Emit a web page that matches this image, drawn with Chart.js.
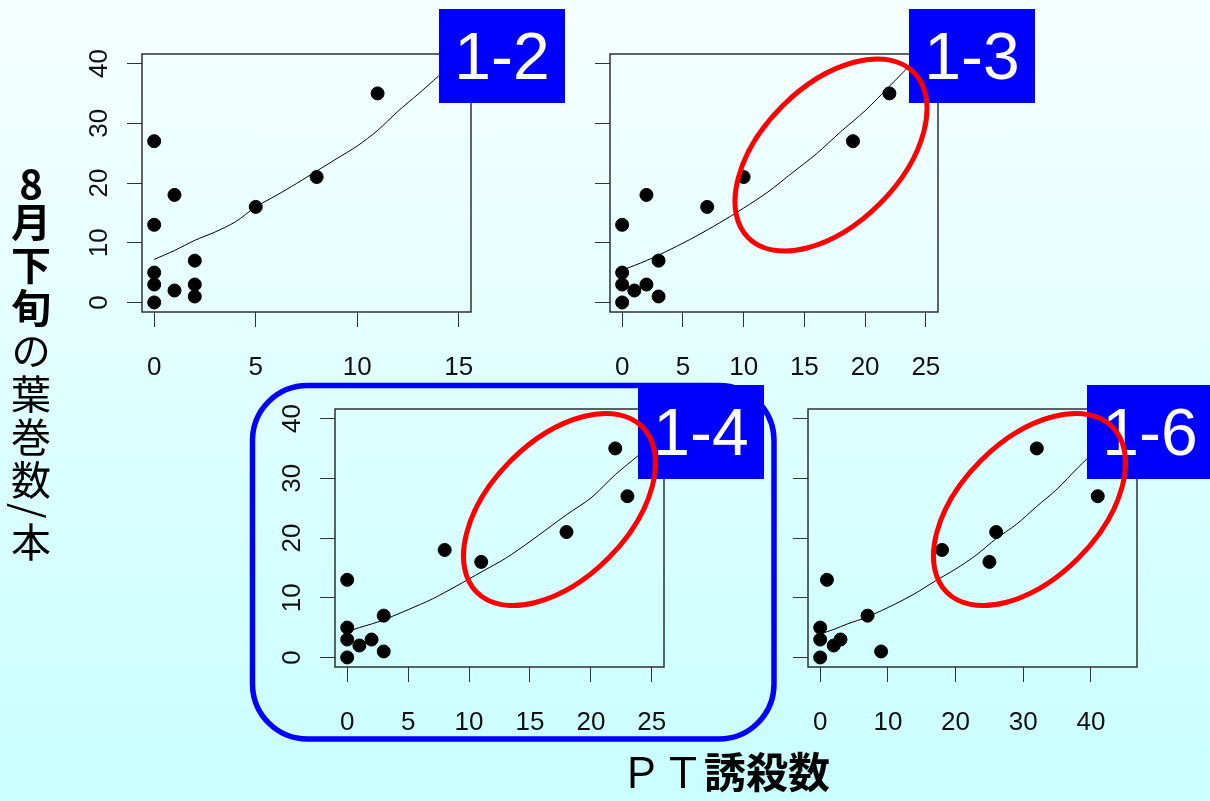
<!DOCTYPE html>
<html>
<head>
<meta charset="utf-8">
<script src="https://cdn.jsdelivr.net/npm/chart.js@4.4.1/dist/chart.umd.min.js"></script>
<style>
html, body { margin: 0; padding: 0; }
body {
    width: 1210px; height: 801px; overflow: hidden; position: relative;
    background: linear-gradient(to bottom, #f6ffff 0%, #c9ffff 100%);
    font-family: "Liberation Sans", Arial, sans-serif;
}
canvas { position: absolute; }
.tag {
    position: absolute; width: 126px; height: 94px;
    background: #0000ff; color: #fff;
    font-size: 66px; line-height: 94px; text-align: center;
}
#ytitle {
    position: absolute; left: 11px; top: 162px;
    writing-mode: vertical-rl; text-orientation: mixed;
    font-family: "Noto Sans CJK JP"; font-size: 40px; line-height: 40px; color: #000;
    letter-spacing: 3px;
}
#ytitle .n { text-combine-upright: all; }
#xtitle {
    position: absolute; left: 620px; top: 746px;
    font-family: "Noto Sans CJK JP"; font-size: 42px; line-height: 48px; color: #000;
    white-space: nowrap;
}
b { font-weight: bold; }
svg { position: absolute; left: 0; top: 0; }
</style>
</head>
<body>
<canvas id="c12"></canvas>
<canvas id="c13"></canvas>
<canvas id="c14"></canvas>
<canvas id="c16"></canvas>

<div class="tag" style="left:439px;top:9px">1-2</div>
<div class="tag" style="left:909px;top:9px">1-3</div>
<div class="tag" style="left:638px;top:385px">1-4</div>
<div class="tag" style="left:1087px;top:385px">1-6</div>

<svg width="1210" height="801">
    <g fill="none" stroke="#ff0000" stroke-width="5">
        <ellipse cx="831" cy="155" rx="117" ry="69" transform="rotate(-45 831 155)"/>
        <ellipse cx="559.5" cy="509.5" rx="117" ry="69" transform="rotate(-45 559.5 509.5)"/>
        <ellipse cx="1029.5" cy="509.5" rx="117" ry="69" transform="rotate(-45 1029.5 509.5)"/>
    </g>
    <rect x="252.5" y="385.5" width="521.5" height="353.5" rx="55" ry="55"
          fill="none" stroke="#0000ff" stroke-width="5.5"/>
</svg>

<div id="ytitle"><b><span class="n">8</span>月下旬</b>の葉巻数/本</div>
<div id="xtitle">ＰＴ<b>誘殺数</b></div>

<script>
// 葉巻数 (y) vs PT誘殺数 (x), one pair of arrays per trap
const x12 = [0, 0, 0, 0, 0, 1, 1, 2, 2, 2, 5, 8, 11];
const y12 = [0, 3, 5, 13, 27, 2, 18, 7, 3, 1, 16, 21, 35];
const x13 = [0, 0, 0, 0, 1, 2, 2, 3, 3, 7, 10, 19, 22];
const y13 = [0, 3, 5, 13, 2, 3, 18, 7, 1, 16, 21, 27, 35];
const x14 = [0, 0, 0, 0, 1, 2, 3, 3, 8, 11, 18, 22, 23];
const y14 = [0, 3, 5, 13, 2, 3, 7, 1, 18, 16, 21, 35, 27];
const x16 = [0, 0, 0, 1, 2, 3, 7, 9, 18, 25, 26, 32, 41];
const y16 = [0, 3, 5, 13, 2, 3, 7, 1, 18, 16, 21, 35, 27];

// fitted curves
const fit12x = [0, 1, 2, 3, 4, 5, 6, 7, 8, 9, 10, 11, 12, 13, 14, 14.5];
const fit12y = [7.2, 8.7, 10.4, 11.8, 13.5, 16.0, 17.9, 19.9, 22.0, 24.1, 26.2, 28.8, 32.0, 34.9, 37.9, 39.3];
const fit13x = [0, 2, 4, 6, 8, 10, 12, 14, 16, 18, 20, 22, 23.5];
const fit13y = [5.4, 7.0, 8.9, 11.0, 13.3, 15.8, 18.5, 21.7, 24.9, 28.6, 32.1, 36.2, 39.3];
const fit14x = [0, 1, 2, 3, 5, 7, 9, 11, 13, 15, 18, 20, 22, 24, 24.5];
const fit14y = [4.3, 5.0, 5.6, 6.3, 8.0, 9.8, 12.0, 14.3, 16.6, 19.4, 23.9, 26.7, 30.6, 34.0, 35.0];
const fit16x = [0, 2, 4, 7, 11, 14, 17, 20, 23, 26, 29, 32, 35, 38, 41];
const fit16y = [3.9, 4.7, 5.6, 6.8, 8.9, 10.7, 12.8, 14.8, 17.1, 19.9, 22.3, 25.3, 28.2, 31.7, 35.0];

// tick labels
const yTicks = [0, 10, 20, 30, 40];
const xTicks12 = [0, 5, 10, 15];
const xTicks25 = [0, 5, 10, 15, 20, 25];
const xTicks16 = [0, 10, 20, 30, 40];

// R style axis limits (range extended 4% each side)
const yLim = [-1.6, 41.6];
const xLim12 = [-0.6, 15.6];
const xLim25 = [-1, 26];
const xLim16 = [-1.8, 46.8];

const Y_AXIS_W = 70, X_AXIS_H = 80, PAD = 12;

const framePlugin = {
    id: "frame",
    beforeDatasetsDraw(chart) {
        const a = chart.chartArea, ctx = chart.ctx;
        ctx.save();
        ctx.strokeStyle = "#222";
        ctx.lineWidth = 1.4;
        ctx.strokeRect(a.left, a.top, a.right - a.left, a.bottom - a.top);
        ctx.restore();
    }
};

function pairs(xs, ys) {
    return xs.map((v, i) => ({ x: v, y: ys[i] }));
}

function makeChart(id, box, xs, ys, fx, fy, xLim, xTicks, yLabels) {
    const canvas = document.getElementById(id);
    const w = box.w + Y_AXIS_W + PAD, h = box.h + X_AXIS_H + PAD;
    canvas.width = w;
    canvas.height = h;
    canvas.style.left = (box.left - Y_AXIS_W) + "px";
    canvas.style.top = (box.top - PAD) + "px";
    canvas.style.width = w + "px";
    canvas.style.height = h + "px";
    const tickFont = { family: "Liberation Sans", size: 26 };
    return new Chart(canvas, {
        type: "scatter",
        plugins: [framePlugin],
        data: {
            datasets: [
                {
                    data: pairs(fx, fy),
                    showLine: true,
                    borderColor: "#000",
                    borderWidth: 1,
                    pointRadius: 0,
                    tension: 0.3,
                },
                {
                    data: pairs(xs, ys),
                    backgroundColor: "#000",
                    borderColor: "#000",
                    pointRadius: 6.5,
                    pointHoverRadius: 6.5,
                },
            ],
        },
        options: {
            responsive: false,
            animation: false,
            layout: { padding: { left: 0, top: PAD, right: PAD, bottom: 0 } },
            plugins: { legend: { display: false }, tooltip: { enabled: false } },
            scales: {
                x: {
                    type: "linear",
                    min: xLim[0],
                    max: xLim[1],
                    afterBuildTicks: (s) => { s.ticks = xTicks.map((v) => ({ value: v })); },
                    afterFit: (s) => { s.height = X_AXIS_H; s.paddingLeft = 0; s.paddingRight = 0; },
                    grid: { drawOnChartArea: false, drawTicks: true, tickLength: 15, color: "#333", lineWidth: 1 },
                    border: { display: false },
                    ticks: { font: tickFont, color: "#111", padding: 25, maxRotation: 0, autoSkip: false },
                },
                y: {
                    type: "linear",
                    min: yLim[0],
                    max: yLim[1],
                    afterBuildTicks: (s) => { s.ticks = yTicks.map((v) => ({ value: v })); },
                    afterFit: (s) => { s.width = Y_AXIS_W; s.paddingTop = 0; s.paddingBottom = 0; },
                    grid: { drawOnChartArea: false, drawTicks: true, tickLength: 15, color: "#333", lineWidth: 1 },
                    border: { display: false },
                    ticks: {
                        display: yLabels,
                        font: tickFont,
                        color: "#111",
                        padding: 13,
                        minRotation: 90,
                        maxRotation: 90,
                        crossAlign: "center",
                        autoSkip: false,
                    },
                },
            },
        },
    });
}

makeChart("c12", { left: 142, top: 54, w: 329, h: 258 }, x12, y12, fit12x, fit12y, xLim12, xTicks12, true);
makeChart("c13", { left: 610, top: 54, w: 328, h: 258 }, x13, y13, fit13x, fit13y, xLim25, xTicks25, false);
makeChart("c14", { left: 335, top: 409, w: 329, h: 258 }, x14, y14, fit14x, fit14y, xLim25, xTicks25, true);
makeChart("c16", { left: 808, top: 409, w: 329, h: 258 }, x16, y16, fit16x, fit16y, xLim16, xTicks16, false);
</script>
</body>
</html>
